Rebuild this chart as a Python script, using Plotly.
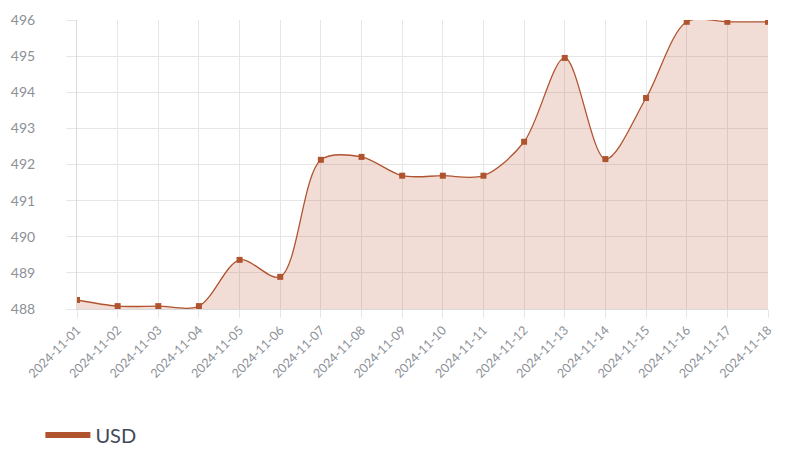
import plotly.graph_objects as go

dates = ["2024-11-01","2024-11-02","2024-11-03","2024-11-04","2024-11-05","2024-11-06",
         "2024-11-07","2024-11-08","2024-11-09","2024-11-10","2024-11-11","2024-11-12",
         "2024-11-13","2024-11-14","2024-11-15","2024-11-16","2024-11-17","2024-11-18"]
usd = [488.25, 488.08, 488.08, 488.08, 489.36, 488.89,
       492.13, 492.21, 491.69, 491.69, 491.69, 492.63,
       494.95, 492.15, 493.84, 495.95, 495.95, 495.95]
y_ticks = [488, 489, 490, 491, 492, 493, 494, 495, 496]

LINE = "#b0532f"
FILL = "rgba(190,100,70,0.22)"
TICK = "#8c9097"
GRID = "#e6e6e6"

fig = go.Figure()
fig.add_trace(go.Scatter(
    x=dates, y=usd, mode="lines+markers", name="USD",
    line=dict(color=LINE, width=1.3, shape="spline", smoothing=0.9),
    marker=dict(symbol="square", size=6, color=LINE),
    fill="tozeroy", fillcolor=FILL, showlegend=False,
))
fig.add_trace(go.Scatter(
    x=[None], y=[None], mode="lines", name="USD",
    line=dict(color=LINE, width=6), showlegend=True,
))

fig.update_layout(
    width=800, height=449,
    margin=dict(l=77, r=32, t=20, b=140, autoexpand=False),
    paper_bgcolor="white", plot_bgcolor="white",
    font=dict(family="Lato, sans-serif", color=TICK, size=13),
    showlegend=True,
    legend=dict(x=-0.053, xanchor="left", y=-0.436, yanchor="middle",
                font=dict(size=20, color="#414958"), itemwidth=45),
    xaxis=dict(type="category", range=[0, len(dates) - 1], tickangle=-45,
               automargin=False,
               showgrid=True, gridcolor=GRID, gridwidth=1,
               showline=True, linecolor="#d9d9d9", linewidth=1,
               ticks="outside", ticklen=8, tickcolor=GRID,
               tickfont=dict(size=12.5, color=TICK), zeroline=False),
    yaxis=dict(range=[488, 496], tickvals=y_ticks, automargin=False,
               showgrid=True, gridcolor=GRID, gridwidth=1,
               showline=True, linecolor="#d9d9d9", linewidth=1,
               ticks="outside", ticklen=10, tickcolor=GRID,
               ticklabelstandoff=28,
               tickfont=dict(size=14, color=TICK), zeroline=False),
)

post = (
    "var h=document.documentElement,b=document.body;"
    "[h,b].forEach(function(e){e.style.margin='0';e.style.padding='0';e.style.overflow='hidden';});"
)
fig.write_html("out.html", config={"displayModeBar": False}, post_script=post)
